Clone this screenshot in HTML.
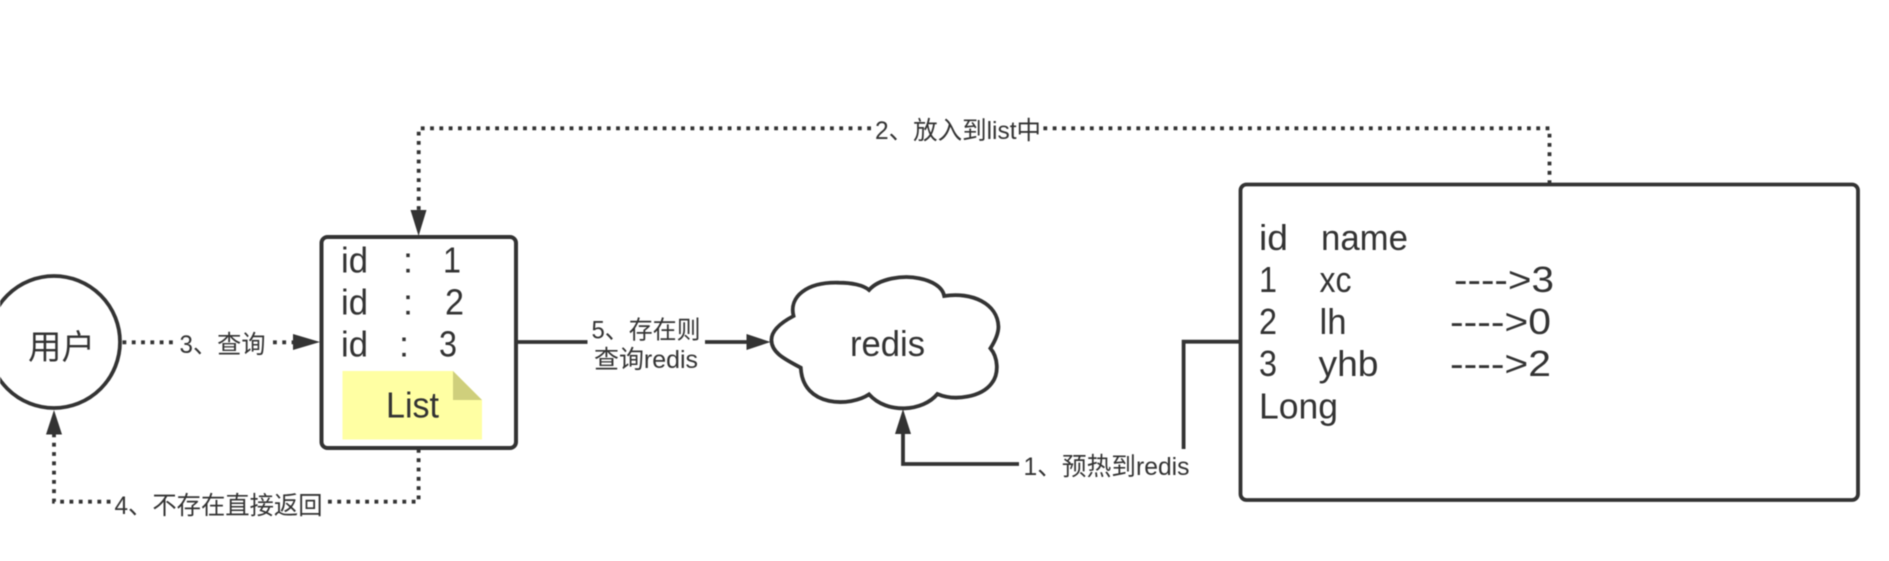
<!DOCTYPE html>
<html><head><meta charset="utf-8">
<style>
html,body{margin:0;padding:0;background:#fff;width:1889px;height:561px;overflow:hidden}
svg{display:block;filter:blur(0.55px)}
text{font-family:"Liberation Sans","Noto Sans CJK SC",sans-serif;fill:#333}
.b{font-size:36px}
.l{font-size:25px}
.s{fill:none;stroke:#333;stroke-width:3.8}
.d{fill:none;stroke:#333;stroke-width:3.8;stroke-dasharray:3.8 5.5}
.a{fill:#333}
</style></head><body>
<svg width="1889" height="561" viewBox="0 0 1889 561" xmlns="http://www.w3.org/2000/svg">
<rect width="1889" height="561" fill="#fff"/>

<!-- user circle -->
<circle cx="54" cy="342" r="66" fill="#fff" stroke="#333" stroke-width="3.8"/>
<text x="28" y="359" font-size="34" textLength="67" lengthAdjust="spacingAndGlyphs">用户</text>

<!-- list box -->
<rect x="321.5" y="237" width="194.5" height="211" rx="6" fill="#fff" stroke="#333" stroke-width="4"/>
<g class="b">
<text x="341" y="272.5" textLength="27" lengthAdjust="spacingAndGlyphs">id</text>
<text x="403" y="272.5">:</text>
<text x="443" y="272.5" textLength="18" lengthAdjust="spacingAndGlyphs">1</text>
<text x="341" y="314.5" textLength="27" lengthAdjust="spacingAndGlyphs">id</text>
<text x="403" y="314.5">:</text>
<text x="445" y="314.5" textLength="19" lengthAdjust="spacingAndGlyphs">2</text>
<text x="341" y="356.5" textLength="27" lengthAdjust="spacingAndGlyphs">id</text>
<text x="399" y="356.5">:</text>
<text x="439" y="356.5" textLength="18" lengthAdjust="spacingAndGlyphs">3</text>
</g>

<!-- note -->
<polygon points="342.5,371 453,371 482,400 482,439.5 342.5,439.5" fill="#ffffa3"/>
<polygon points="453,371 482,400 453,400" fill="#cfcf7c"/>
<text x="386" y="417.5" class="b" textLength="53" lengthAdjust="spacingAndGlyphs">List</text>

<!-- cloud -->
<path transform="translate(630,240) scale(0.4018,0.33333)" fill="#fff" stroke="#333" stroke-width="3.8" vector-effect="non-scaling-stroke"
 d="M352,300 C352,270 380,245 407,228 C395,170 440,125 520,128 C550,128 580,135 595,150 C620,115 680,105 720,115 C750,122 778,140 782,168 C850,155 915,190 917,260 C917,285 905,310 897,325 C915,350 920,400 900,430 C875,470 810,485 765,462 C730,514 640,524 595,463 C550,500 430,505 425,383 C390,360 352,340 352,300 Z"/>
<text x="850" y="356" class="b" textLength="75" lengthAdjust="spacingAndGlyphs">redis</text>

<!-- right box -->
<rect x="1240.5" y="184.5" width="617.5" height="315.5" rx="6" fill="#fff" stroke="#333" stroke-width="3.8"/>
<g class="b">
<text x="1259" y="250" textLength="29" lengthAdjust="spacingAndGlyphs">id</text>
<text x="1321" y="250" textLength="87" lengthAdjust="spacingAndGlyphs">name</text>
<text x="1259" y="292" textLength="18" lengthAdjust="spacingAndGlyphs">1</text>
<text x="1319.5" y="292" textLength="32" lengthAdjust="spacingAndGlyphs">xc</text>
<text x="1454" y="292" textLength="100" lengthAdjust="spacingAndGlyphs">----&gt;3</text>
<text x="1259" y="334" textLength="18" lengthAdjust="spacingAndGlyphs">2</text>
<text x="1319.5" y="334" textLength="27" lengthAdjust="spacingAndGlyphs">lh</text>
<text x="1450" y="334" textLength="101" lengthAdjust="spacingAndGlyphs">----&gt;0</text>
<text x="1259" y="376" textLength="18" lengthAdjust="spacingAndGlyphs">3</text>
<text x="1318.5" y="376" textLength="60" lengthAdjust="spacingAndGlyphs">yhb</text>
<text x="1450" y="376" textLength="101" lengthAdjust="spacingAndGlyphs">----&gt;2</text>
<text x="1259" y="418.5" textLength="79" lengthAdjust="spacingAndGlyphs">Long</text>
</g>

<!-- connector 2 -->
<path class="d" d="M1549.5,184 V128.3 H1043"/>
<path class="d" d="M871,128.3 H418.7 V212"/>
<polygon class="a" points="410.5,210 426.5,210 418.6,236"/>
<text x="875" y="139" class="l" textLength="166" lengthAdjust="spacingAndGlyphs">2、放入到list中</text>

<!-- connector 3 -->
<path class="d" d="M122.5,342.3 H175"/>
<path class="d" d="M273,342.3 H294"/>
<polygon class="a" points="293,334 293,350 320,342"/>
<text x="179.5" y="353" class="l" textLength="86" lengthAdjust="spacingAndGlyphs">3、查询</text>

<!-- connector 4 -->
<path class="d" d="M418.6,449 V501.7 H327"/>
<path class="d" d="M110.5,501.7 H54 V433"/>
<polygon class="a" points="46,434.5 62,434.5 54,410"/>
<text x="114.5" y="514" class="l" textLength="208" lengthAdjust="spacingAndGlyphs">4、不存在直接返回</text>

<!-- connector 5 -->
<path class="s" d="M518,342 H587.5"/>
<path class="s" d="M705,342 H748"/>
<polygon class="a" points="746.5,334 746.5,350 770.5,342"/>
<text x="591.5" y="338.5" class="l" textLength="109" lengthAdjust="spacingAndGlyphs">5、存在则</text>
<text x="594" y="368" class="l" textLength="104" lengthAdjust="spacingAndGlyphs">查询redis</text>

<!-- connector 1 -->
<path class="s" d="M1240,341.7 H1183.6 V449"/>
<path class="s" d="M1019,464 H903 V432"/>
<polygon class="a" points="895,434 911,434 903,409"/>
<text x="1023.5" y="475" class="l" textLength="166" lengthAdjust="spacingAndGlyphs">1、预热到redis</text>
</svg>
</body></html>
